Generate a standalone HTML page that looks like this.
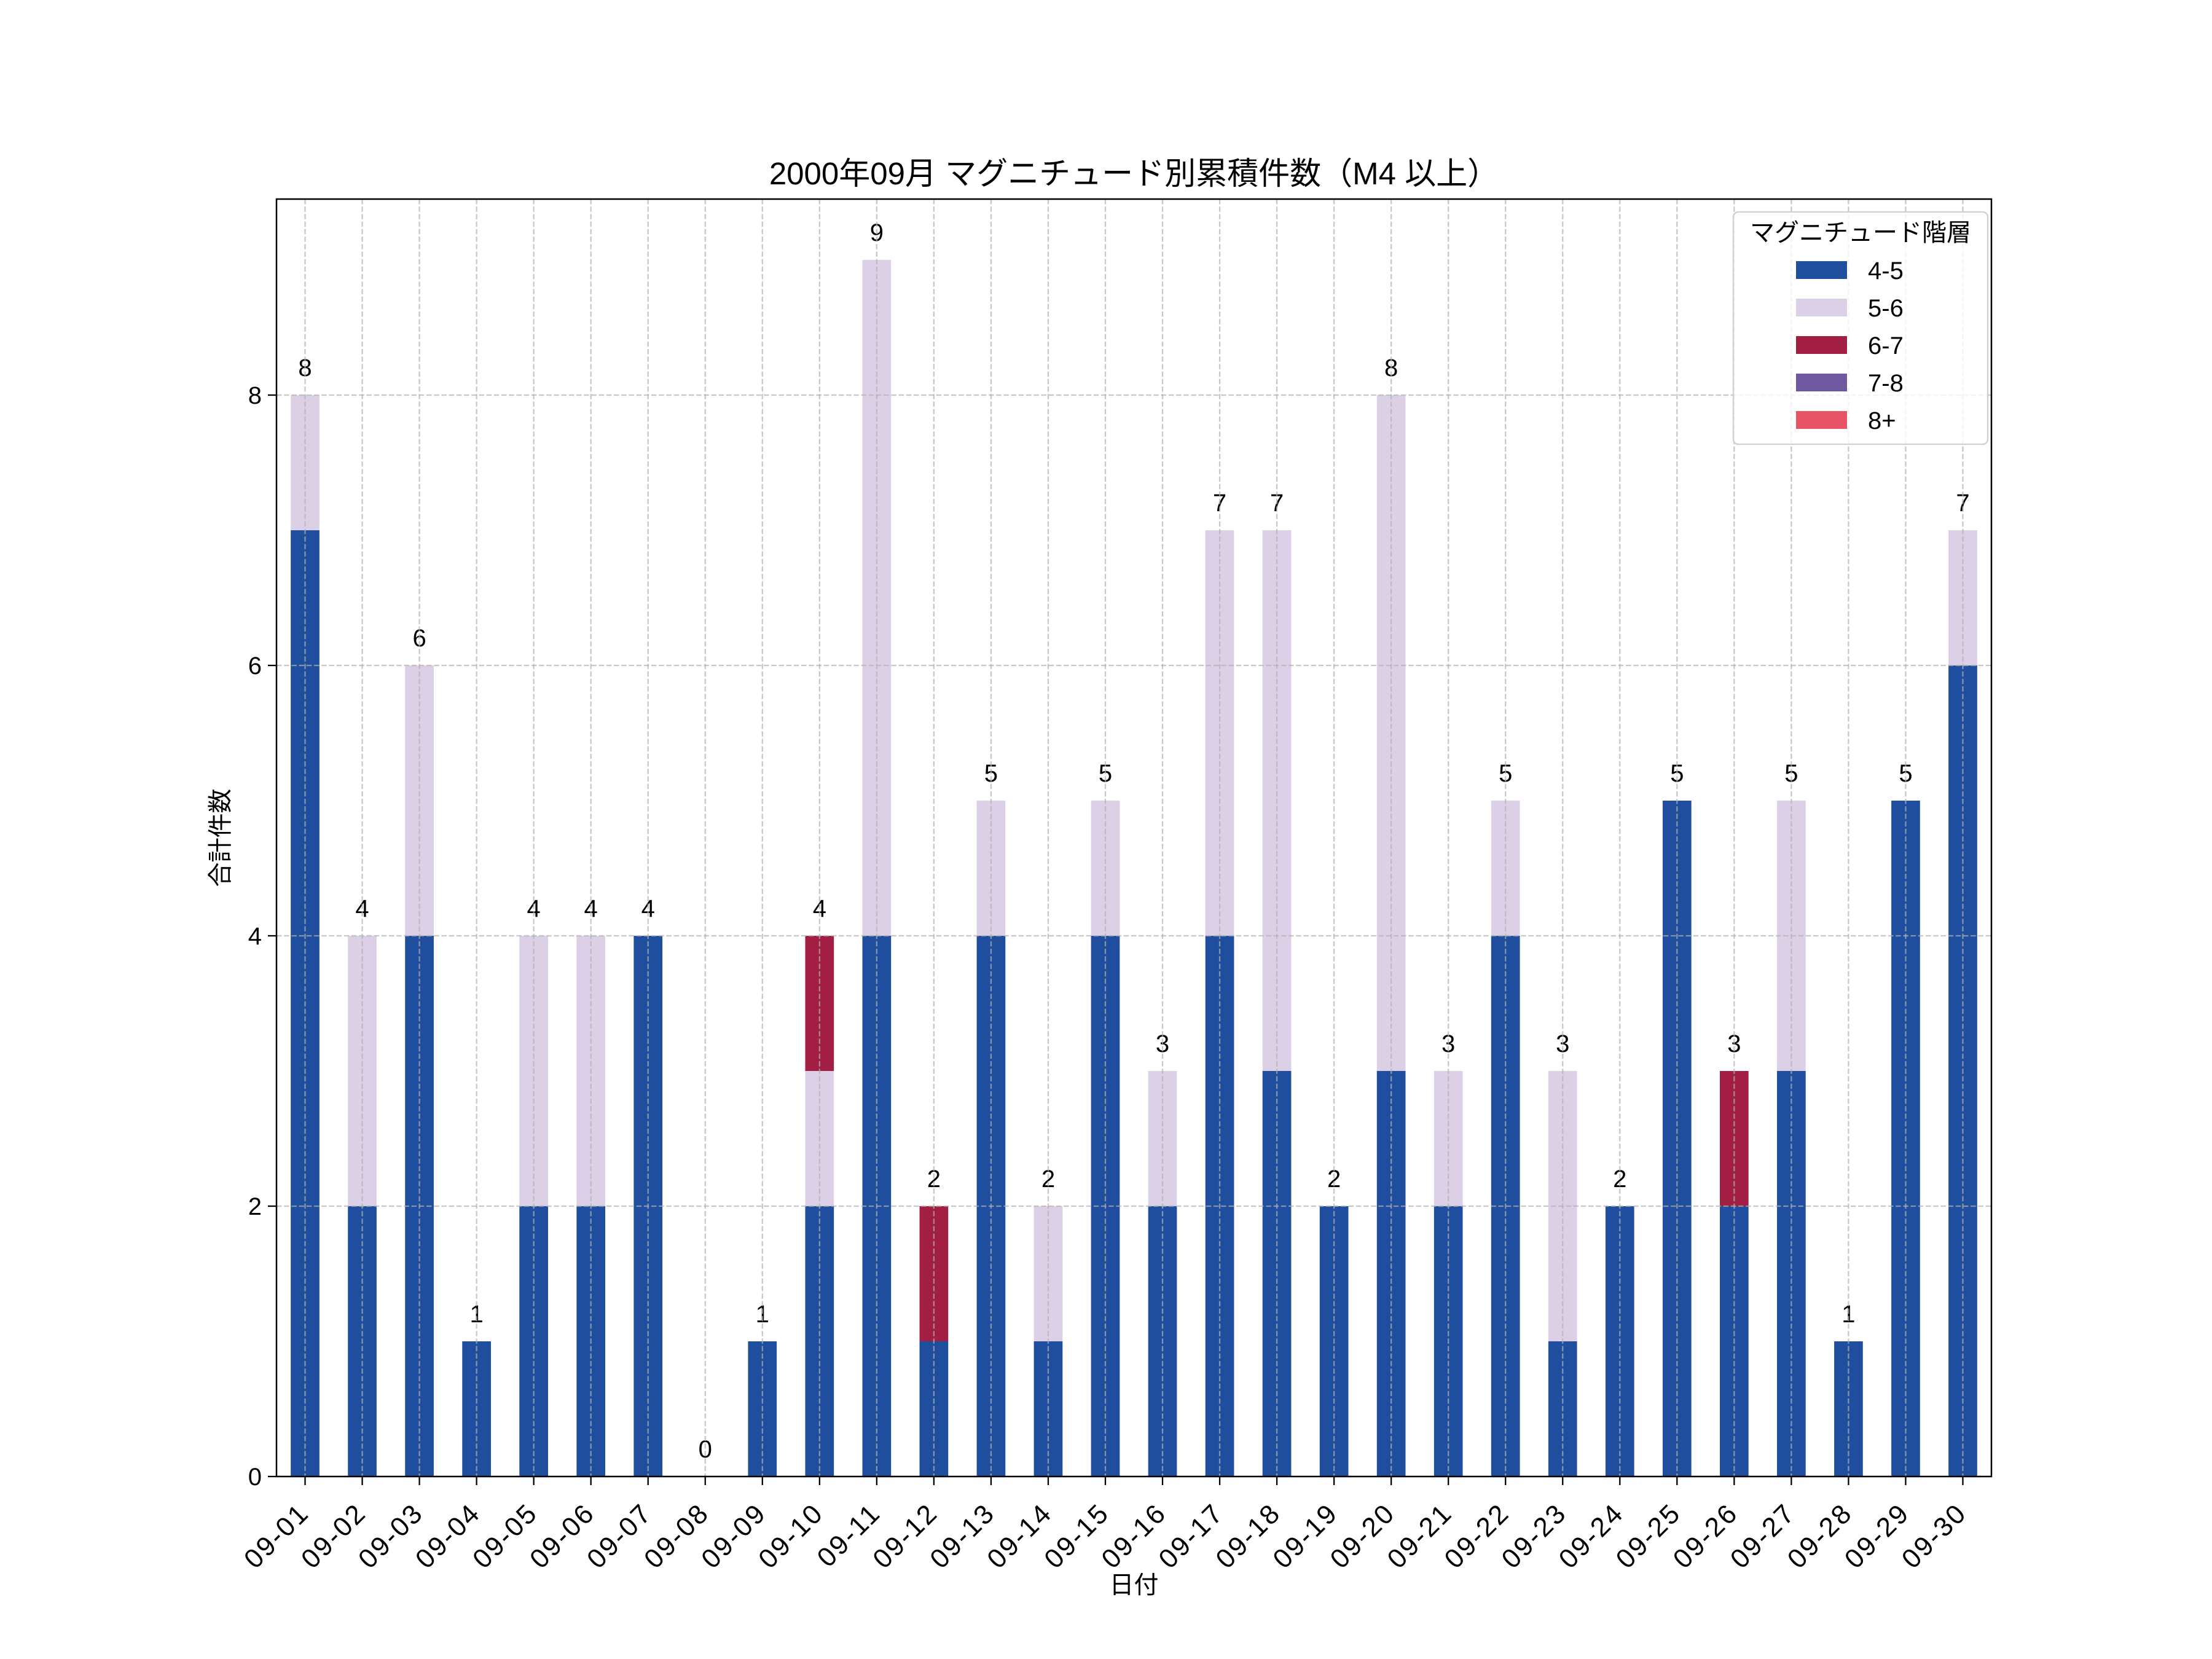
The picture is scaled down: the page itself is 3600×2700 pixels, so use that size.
<!DOCTYPE html>
<html><head><meta charset="utf-8"><style>
body{margin:0;background:#fff}
svg{display:block;font-family:"Liberation Sans","Noto Sans CJK JP",sans-serif}
</style></head><body>
<svg id="s" width="3600" height="2700" xmlns="http://www.w3.org/2000/svg"></svg>
<script>
const d=[[7,1,0],[2,2,0],[4,2,0],[1,0,0],[2,2,0],[2,2,0],[4,0,0],[0,0,0],[1,0,0],[2,1,1],[4,5,0],[1,0,1],[4,1,0],[1,1,0],[4,1,0],[2,1,0],[4,3,0],[3,4,0],[2,0,0],[3,5,0],[2,1,0],[4,1,0],[1,2,0],[2,0,0],[5,0,0],[2,0,1],[3,2,0],[1,0,0],[5,0,0],[6,1,0]];
const C=['#1f4e9e','#dcd0e6','#a21f43'];
const L=450,R=3241,T=324,B=2403,U=220,S=(R-L)/30,W=46.7;
let h='';
d.forEach((v,i)=>{const cx=L+S*(i+0.5);let y=B;v.forEach((n,k)=>{if(n>0){h+=`<rect x="${cx-W/2}" y="${y-n*U}" width="${W}" height="${n*U}" fill="${C[k]}"/>`;y-=n*U;}});
const t=v[0]+v[1]+v[2];h+=`<text x="${cx}" y="${B-t*U-31}" font-size="40" text-anchor="middle">${t}</text>`;
h+=`<line x1="${cx}" y1="${T}" x2="${cx}" y2="${B}" stroke="#b0b0b0" stroke-opacity="0.7" stroke-width="2.3" stroke-dasharray="8.5,3.7"/>`;
h+=`<line x1="${cx}" y1="${B}" x2="${cx}" y2="${B+14}" stroke="#000" stroke-width="2.3"/>`;
const n=String(i+1).padStart(2,'0');h+=`<text transform="translate(${cx+9},${B+62}) rotate(-45)" font-size="44" letter-spacing="3" text-anchor="end">09-${n}</text>`;});
for(let k=0;k<=8;k+=2){const y=B-k*U;h+=`<line x1="${L}" y1="${y}" x2="${R}" y2="${y}" stroke="#b0b0b0" stroke-opacity="0.7" stroke-width="2.3" stroke-dasharray="8.5,3.7"/><line x1="${L-14}" y1="${y}" x2="${L}" y2="${y}" stroke="#000" stroke-width="2.3"/><text x="${L-24}" y="${y+14}" font-size="40" text-anchor="end">${k}</text>`;}
h+=`<rect x="${L}" y="${T}" width="${R-L}" height="${B-T}" fill="none" stroke="#000" stroke-width="2.5"/>`;
h+=`<text x="${(L+R)/2}" y="300" font-size="51" text-anchor="middle">2000年09月 マグニチュード別累積件数（M4 以上）</text>`;
h+=`<text x="${(L+R)/2}" y="2593" font-size="40" text-anchor="middle">日付</text>`;
h+=`<text transform="translate(372,${(T+B)/2}) rotate(-90)" font-size="40" text-anchor="middle">合計件数</text>`;
h+=`<rect x="2821" y="345" width="414" height="378" rx="8" fill="#fff" fill-opacity="0.8" stroke="#d0d0d0" stroke-width="2.3"/>`;
h+=`<text x="3028" y="392" font-size="40" text-anchor="middle">マグニチュード階層</text>`;
const LC=['#1f4e9e','#dcd0e6','#a21f43','#7058a0','#e65466'],LT=['4-5','5-6','6-7','7-8','8+'];
LC.forEach((c,i)=>{const y=439+i*61;h+=`<rect x="2923" y="${y-14}" width="83" height="29" fill="${c}"/><text x="3040" y="${y+15}" font-size="40">${LT[i]}</text>`;});
document.getElementById('s').innerHTML=h;
</script>
</body></html>
